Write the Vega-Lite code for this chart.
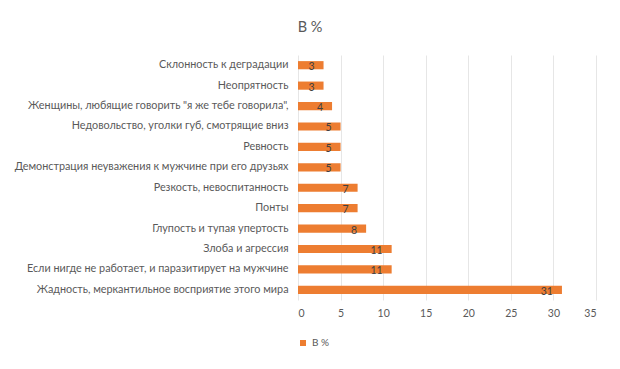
{
  "$schema": "https://vega.github.io/schema/vega-lite/v6.json",
  "autosize": {"type": "none"},
  "padding": {"left": 298, "top": 55, "right": 24, "bottom": 69},
  "width": 298,
  "height": 245,
  "background": "white",
  "title": {
    "text": "В %",
    "anchor": "middle",
    "dx": -137,
    "offset": 20,
    "font": "Lato",
    "fontSize": 14.5,
    "fontWeight": "normal",
    "color": "#595959"
  },
  "data": {
    "values": [
      {"cat": "Склонность к деградации", "v": 3, "o": 1},
      {"cat": "Неопрятность", "v": 3, "o": 2},
      {"cat": "Женщины, любящие говорить \"я же тебе говорила\",", "v": 4, "o": 3},
      {"cat": "Недовольство, уголки губ, смотрящие вниз", "v": 5, "o": 4},
      {"cat": "Ревность", "v": 5, "o": 5},
      {"cat": "Демонстрация неуважения к мужчине при его друзьях", "v": 5, "o": 6},
      {"cat": "Резкость, невоспитанность", "v": 7, "o": 7},
      {"cat": "Понты", "v": 7, "o": 8},
      {"cat": "Глупость и тупая упертость", "v": 8, "o": 9},
      {"cat": "Злоба и агрессия", "v": 11, "o": 10},
      {"cat": "Если нигде не работает, и паразитирует на мужчине", "v": 11, "o": 11},
      {"cat": "Жадность, меркантильное восприятие этого мира", "v": 31, "o": 12}
    ]
  },
  "encoding": {
    "y": {
      "field": "cat",
      "type": "nominal",
      "sort": {"field": "o", "order": "ascending"},
      "scale": {"paddingInner": 0.6, "paddingOuter": 0.3},
      "axis": {
        "title": null,
        "ticks": false,
        "domain": false,
        "labelPadding": 10,
        "labelFont": "Lato",
        "labelFontSize": 10.8,
        "labelColor": "#595959",
        "labelLimit": 400
      }
    },
    "x": {
      "field": "v",
      "type": "quantitative",
      "scale": {"domain": [0, 35]},
      "axis": {
        "title": null,
        "values": [0, 5, 10, 15, 20, 25, 30, 35],
        "ticks": false,
        "domain": false,
        "grid": true,
        "gridColor": "#e6e6e6",
        "labelPadding": 8,
        "labelFont": "Lato",
        "labelFontSize": 10.5,
        "labelColor": "#595959"
      }
    }
  },
  "layer": [
    {
      "mark": {"type": "bar", "color": "#ED7D31"},
      "encoding": {
        "color": {
          "datum": "В %",
          "type": "nominal",
          "scale": {"range": ["#ED7D31"]},
          "legend": {
            "title": null,
            "orient": "bottom",
            "offset": 19,
            "symbolType": "square",
            "symbolSize": 36,
            "labelFont": "Lato",
            "labelFontSize": 10,
            "labelColor": "#595959"
          }
        }
      }
    },
    {
      "mark": {"type": "text", "align": "right", "baseline": "middle", "dx": -9, "dy": 2, "font": "Lato", "fontSize": 10.5, "color": "#404040"},
      "encoding": {"text": {"field": "v", "type": "quantitative"}}
    }
  ],
  "config": {"view": {"stroke": null}}
}
